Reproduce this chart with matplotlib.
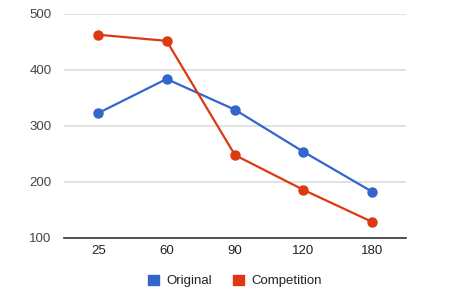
import matplotlib.pyplot as plt
from matplotlib.patches import Patch

plt.rcParams["font.family"] = ["Liberation Sans", "DejaVu Sans"]

categories = ["25", "60", "90", "120", "180"]
original = [323, 384, 329, 254, 183]
competition = [463, 452, 248, 186, 129]
y_ticks = [100, 200, 300, 400, 500]

BLUE = "#3366cc"
RED = "#dc3912"

fig = plt.figure(figsize=(4.5, 3), dpi=100)
ax = fig.add_axes([64 / 450, 1 - 238 / 300, 342 / 450, 224 / 300])

x = range(len(categories))
ax.plot(x, original, color=BLUE, lw=1.6, marker="o", ms=6.5, zorder=3)
ax.plot(x, competition, color=RED, lw=1.6, marker="o", ms=6.5, zorder=3)

ax.set_xlim(-0.5, len(categories) - 0.5)
ax.set_ylim(100, 500)
ax.set_yticks(y_ticks)
ax.set_xticks(list(x))
ax.set_xticklabels(categories)
ax.grid(axis="y", color="#dddddd", lw=1.2)
ax.set_axisbelow(True)
for side in ["top", "right", "left"]:
    ax.spines[side].set_visible(False)
ax.spines["bottom"].set_color("#333333")
ax.spines["bottom"].set_linewidth(1.2)
ax.tick_params(length=0, labelsize=9.5, colors="#222222")
ax.tick_params(axis="y", pad=9, colors="#444444")
ax.tick_params(axis="x", pad=5)

# legend is centred under the plot area, not the whole figure
handles = [Patch(color=BLUE, label="Original"), Patch(color=RED, label="Competition")]
ax.legend(handles=handles, loc="center", bbox_to_anchor=(0.5, -43 / 224),
          ncol=2, frameon=False, fontsize=9.5, handlelength=0.85, handleheight=0.85,
          handletextpad=0.55, columnspacing=1.6, labelcolor="#222222")

fig.savefig("out.png", dpi=100)
